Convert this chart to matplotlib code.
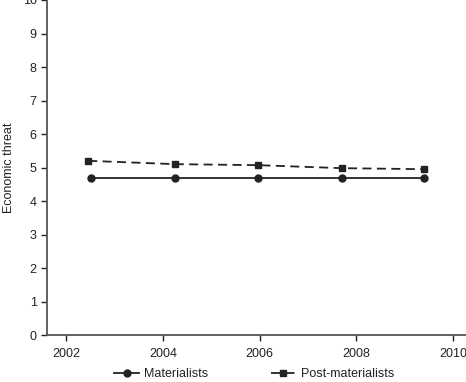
import matplotlib.pyplot as plt

years_mat = [2002.5, 2004.25, 2005.97, 2007.7, 2009.4]
materialists = [4.7, 4.7, 4.7, 4.7, 4.7]
years_post = [2002.45, 2004.25, 2005.97, 2007.7, 2009.4]
post_materialists = [5.2, 5.1, 5.07, 4.98, 4.95]

plt.rcParams['font.family'] = ['Liberation Sans', 'DejaVu Sans']
col = '#222222'

fig = plt.figure(figsize=(4.66, 3.82), dpi=100)
ax = fig.add_axes([0.101, 0.123, 0.899, 0.877])

ax.plot(years_mat, materialists, '-', color=col, lw=1.3, marker='o', ms=5,
        label='Materialists')
ax.plot(years_post, post_materialists, '--', color=col, lw=1.3, marker='s', ms=5,
        dashes=(5, 3), label='Post-materialists')

ax.set_xlim(2001.6, 2010.27)
ax.set_ylim(0, 10)
ax.set_xticks([2002, 2004, 2006, 2008, 2010])
ax.set_yticks(range(0, 11))
ax.set_ylabel('Economic threat', fontsize=9, color=col)
ax.yaxis.set_label_coords(-0.077, 0.5)
ax.tick_params(labelsize=9, colors=col, length=4, width=1)
ax.tick_params(axis='x', pad=5)
ax.spines['top'].set_visible(False)
ax.spines['right'].set_visible(False)
for s in ['left', 'bottom']:
    ax.spines[s].set_color('#555555')
    ax.spines[s].set_linewidth(1.3)

fig.legend(loc='center', bbox_to_anchor=(0.545, 0.02), ncol=2, frameon=False,
           fontsize=9, handlelength=2.0, columnspacing=5, handletextpad=0.4,
           labelcolor=col)

fig.savefig('out.png', dpi=100)
